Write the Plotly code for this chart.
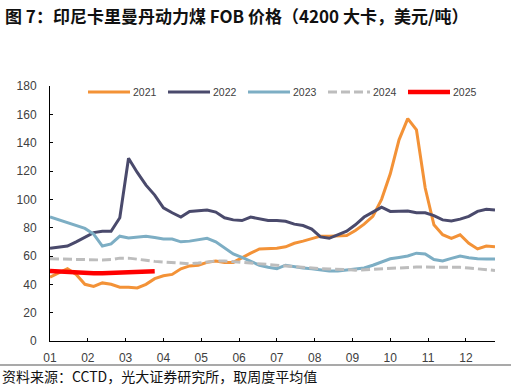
import plotly.graph_objects as go

# ---- data (weekly index 0..51) ----
weeks = list(range(52))
y2021 = [45, 48, 51, 47, 40, 38.5, 41, 40, 38, 38, 37.5, 40, 44, 46, 47, 51, 53, 53.5, 55.5, 56.5,
         55.5, 55.5, 59, 62, 65, 65, 65.5, 66.5, 69, 70.5, 72.5, 74, 74, 74, 74.5, 78, 82.5, 88, 100, 118,
         142, 157, 149, 108, 82, 75, 72.5, 75, 69, 65, 67, 66.5]
y2022 = [65.5, 66.3, 67, 70, 73.5, 76.5, 77.5, 77.5, 87, 129, 119, 110, 103, 94, 90.5, 87.5, 91.5, 91.8, 92.5, 91,
         87, 85.5, 85, 87.5, 86, 85, 85, 84.5, 82.5, 81.5, 79, 73.5, 72.5, 75, 77.5, 82, 87.5, 91, 94.5, 91.5,
         91.5, 91.8, 90.5, 90.5, 88.5, 85.5, 84.7, 86, 88, 91.5, 93, 92.5]
y2023 = [87.5, 85.5, 83.5, 82, 79.5, 75.5, 67, 68.5, 74, 72.7, 73.3, 74, 73, 72, 72, 70, 70.5, 71.5, 72.5, 70,
         66, 61.5, 59, 56.5, 53.5, 52, 51, 53.5, 52.3, 51.5, 51, 50, 49.5, 49.5, 50, 50.5, 51.5, 53.5, 56, 58,
         59, 60, 62, 61.5, 57.5, 56.5, 58.3, 60, 58.8, 58, 57.8, 57.9]
y2024 = [58, 57.8, 57.5, 57.3, 57.2, 57.2, 57.2, 57.5, 58.5, 58.5, 58, 57, 56.2, 55.8, 55, 54.5, 54.5, 55, 55.8, 56.5,
         56.5, 56, 55.5, 55, 54.5, 53.5, 53.2, 53, 52.3, 51.8, 51.3, 51, 50.8, 50.8, 50.5, 50, 50.3, 50.8, 51.3, 51.5,
         52, 52.2, 52.2, 52.2, 52.2, 52.2, 52, 52, 51.5, 51, 50.5, 49.8]
y2025 = [49.5, 49, 48.7, 48.3, 48, 47.8, 47.8, 48, 48.2, 48.5, 48.8, 49.5, 49.3]

month_labels = ["01", "02", "03", "04", "05", "06", "07", "08", "09", "10", "11", "12"]
month_pos = [i * 52 / 12 for i in range(12)]
y_ticks = list(range(0, 181, 20))

series = [
    ("2021", y2021, "#F39237", 3, "solid"),
    ("2022", y2022, "#4A4A6C", 3, "solid"),
    ("2023", y2023, "#7DAEC4", 3, "solid"),
    ("2024", y2024, "#BDBDBD", 3, "9px,4px"),
    ("2025", y2025, "#FF0000", 4.5, "solid"),
]

W, H = 516, 386
PL, PR, PT, PB = 50, 495, 86, 341  # plot area in pixels
L, R, T, B = PL, W - PR, PT, H - PB
PW, PH = PR - PL, PB - PT

def px(xp):
    return (xp - PL) / PW

def py(yp):
    return (PB - yp) / PH

fig = go.Figure()
for name, vals, color, width, dash in series:
    fig.add_trace(go.Scatter(x=weeks[:len(vals)], y=vals, mode="lines", name=name,
                             line=dict(color=color, width=width, dash=dash), showlegend=False))

# custom legend
for k, (name, vals, color, width, dash) in enumerate(series):
    x0 = 88 + 80 * k
    fig.add_shape(type="line", xref="paper", yref="paper", x0=px(x0), x1=px(x0 + 42),
                  y0=py(92), y1=py(92), line=dict(color=color, width=width, dash=dash))
    fig.add_annotation(xref="paper", yref="paper", x=px(x0 + 43), y=py(92), text=name,
                       showarrow=False, xanchor="left", yanchor="middle",
                       font=dict(size=10.5, color="#404040", family="Liberation Sans"))

# title and footer
fig.add_annotation(xref="paper", yref="paper", x=px(3), y=py(15),
                   text="<b>图 7：印尼卡里曼丹动力煤 FOB 价格（4200 大卡，美元/吨）</b>",
                   showarrow=False, xanchor="left", yanchor="middle",
                   font=dict(size=17, color="#111111", family="Noto Sans CJK SC"))
fig.add_shape(type="line", xref="paper", yref="paper", x0=px(0), x1=px(511),
              y0=py(365), y1=py(365), line=dict(color="#8C8C8C", width=1.5))
fig.add_annotation(xref="paper", yref="paper", x=px(0), y=py(376),
                   text="资料来源：CCTD，光大证券研究所，取周度平均值",
                   showarrow=False, xanchor="left", yanchor="middle",
                   font=dict(size=14, color="#111111", family="Noto Sans CJK SC"))

fig.update_layout(
    width=W, height=H, margin=dict(l=L, r=R, t=T, b=B),
    paper_bgcolor="white", plot_bgcolor="white",
    font=dict(family="Liberation Sans", size=12, color="#404040"),
)
fig.update_xaxes(range=[0, 51], tickvals=month_pos, ticktext=month_labels, showgrid=False,
                 zeroline=False, showline=True, linecolor="black", linewidth=1,
                 ticks="inside", ticklen=3, tickcolor="black", ticklabelstandoff=6,
                 tickfont=dict(size=12, color="#404040"))
fig.update_yaxes(range=[0, 180], tickvals=y_ticks, showgrid=False, zeroline=False,
                 showline=True, linecolor="black", linewidth=1,
                 ticks="inside", ticklen=3, tickcolor="black", ticklabelstandoff=10,
                 tickfont=dict(size=12, color="#404040"))

# remove the browser's default 8px body margin so the figure sits at the page corner
fig.write_html("out.html", config={"displayModeBar": False},
               post_script="document.body.style.margin='0';")
